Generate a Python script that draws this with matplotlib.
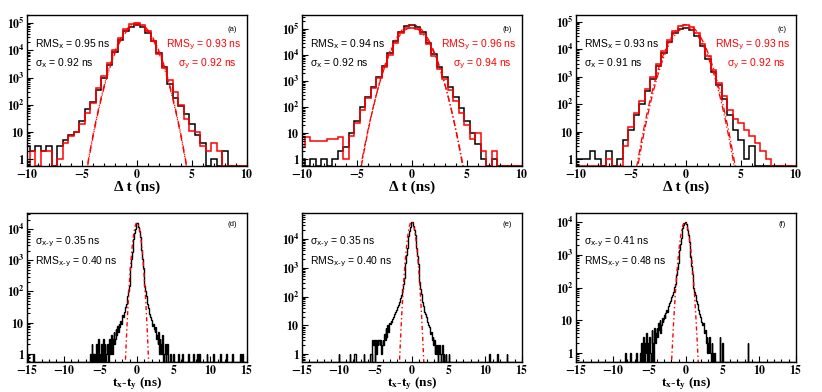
import numpy as np
import matplotlib
matplotlib.use('Agg')
import matplotlib.pyplot as plt
from matplotlib.ticker import FuncFormatter, LogLocator, MultipleLocator, NullFormatter

plt.rcParams['font.family'] = 'Liberation Serif'
plt.rcParams['mathtext.fontset'] = 'stix'

# ---------------- top row: delta t histograms (0.5 ns bins) ----------------
dt_edges = np.arange(-10.25, 10.26, 0.5)

a_x = [3, 2, 3, 2, 3, 0, 3, 5, 8, 10, 25, 70, 130, 350, 1000, 3000, 9000, 24000,
       50000, 75000, 85000, 75000, 45000, 22000, 8000, 2500, 600, 180, 90, 45, 20,
       8, 4, 0, 1, 0, 2, 0, 0, 0, 0]
a_y = [0, 2, 0, 2, 2, 0, 1, 4, 7, 10, 20, 50, 120, 400, 1200, 3500, 10000, 28000,
       60000, 90000, 100000, 85000, 50000, 22000, 7500, 2200, 800, 300, 100, 30, 11,
       10, 3, 2, 4, 2, 0, 0, 0, 0, 0]
b_x = [1, 0, 1, 0, 1, 0, 1, 2, 3, 10, 30, 100, 250, 600, 1500, 4000, 12000, 35000,
       80000, 130000, 150000, 125000, 75000, 30000, 11000, 3500, 1500, 600, 250, 90,
       30, 10, 4, 1, 0, 1, 0, 0, 0, 0, 0]
b_y = [3, 7, 5, 5, 5, 6, 6, 7, 1, 8, 25, 80, 220, 550, 1300, 3500, 10000, 30000,
       70000, 110000, 115000, 105000, 65000, 26000, 9000, 3000, 1200, 450, 180, 60,
       20, 6, 10, 2, 0, 2, 0, 0, 0, 0, 0]
c_x = [1, 1, 1, 2, 1, 0, 2, 0, 1, 5, 12, 40, 100, 300, 800, 2500, 7000, 18000,
       38000, 55000, 60000, 50000, 30000, 13000, 4500, 1500, 500, 150, 40, 12, 5,
       1, 3, 0, 0, 0, 0, 0, 0, 0, 0]
c_y = [0, 0, 0, 0, 0, 0, 1, 0, 0, 3, 15, 50, 130, 350, 1000, 3000, 8500, 22000,
       45000, 70000, 78000, 65000, 38000, 16000, 5500, 1800, 600, 200, 60, 30, 20,
       12, 7, 4, 2, 1, 0, 0, 0, 0, 0]

# gaussian fit parameters (amplitude, sigma) for x and y
top_fits = [((85000, 0.92), (100000, 0.92)),
            ((150000, 0.92), (115000, 0.94)),
            ((60000, 0.91), (78000, 0.92))]
top_rms = [(0.95, 0.93), (0.94, 0.96), (0.93, 0.93)]
top_sig = [(0.92, 0.92), (0.92, 0.94), (0.91, 0.92)]
top_ylim = [(0.57, 2.0e5), (0.55, 3.5e5), (0.57, 1.75e5)]
top_tags = ['(a)', '(b)', '(c)']

# ---------------- bottom row: tx - ty histograms (0.1 ns bins) ----------------
txy_edges = np.arange(-15.0, 15.001, 0.1)
core_start = -4.0   # left edge of the 80 core bins below

d_core = [2, 0, 3, 1, 2, 4, 1, 3, 5, 2,
          3, 6, 4, 8, 5, 9, 7, 11, 9, 14,
          17, 15, 22, 26, 32, 40, 52, 70, 100, 150,
          300, 600, 1100, 1900, 3200, 5000, 7400, 10000, 13000, 15500,
          16000, 14000, 11500, 8500, 5800, 3700, 2100, 1100, 550, 280,
          150, 100, 70, 52, 40, 30, 24, 19, 15, 12,
          11, 8, 9, 6, 5, 7, 3, 4, 2, 5,
          1, 3, 2, 1, 4, 2, 0, 1, 2, 0]
d_tail = {-14.95: 1, -14.85: 1, -14.15: 1, -14.05: 1,
          -6.35: 1, -6.15: 2, -5.95: 1, -5.75: 1, -5.55: 2, -5.45: 1, -5.25: 3,
          -5.05: 1, -4.85: 2, -4.65: 1, -4.55: 3, -4.35: 2, -4.15: 1, -4.05: 2,
          4.05: 1, 4.15: 2, 4.55: 1, 4.95: 1, 5.65: 1, 6.25: 1, 7.05: 1, 7.75: 1,
          8.25: 1, 8.55: 1, 9.55: 1, 10.45: 1, 11.35: 1, 11.45: 1, 12.25: 1,
          13.05: 1, 14.15: 1, 14.35: 1}

e_core = [3, 2, 5, 3, 8, 4, 10, 6, 9, 12,
          11, 14, 13, 17, 20, 19, 24, 28, 33, 38,
          45, 52, 62, 75, 90, 110, 140, 190, 280, 450,
          800, 1500, 2700, 4700, 8000, 13000, 19000, 26000, 34000, 39000,
          40000, 36000, 29000, 21000, 14000, 8500, 4800, 2500, 1300, 650,
          330, 190, 120, 85, 62, 48, 38, 30, 24, 19,
          15, 13, 10, 9, 7, 5, 6, 3, 4, 2,
          3, 1, 2, 1, 2, 0, 1, 2, 1, 0]
e_tail = {-9.95: 1, -8.45: 1, -7.85: 1, -7.75: 1, -6.55: 1, -5.65: 1,
          -5.55: 1, -5.35: 3, -5.25: 2, -5.15: 3, -4.95: 3, -4.85: 1, -4.75: 3,
          -4.65: 2, -4.55: 3, -4.45: 3, -4.35: 2, -4.25: 3, -4.15: 1, -4.05: 2,
          4.05: 1, 4.15: 2, 4.35: 1, 4.65: 1, 5.05: 1, 10.55: 1, 11.65: 1,
          12.95: 1}

f_core = [6, 3, 8, 5, 10, 4, 7, 12, 9, 11,
          14, 12, 17, 20, 18, 24, 28, 33, 38, 45,
          52, 60, 72, 88, 105, 130, 170, 240, 360, 560,
          900, 1400, 2200, 3300, 4800, 6400, 8000, 9300, 10000, 9800,
          8900, 7400, 5600, 3900, 2500, 1500, 850, 470, 260, 150,
          100, 75, 58, 46, 38, 31, 25, 20, 16, 13,
          11, 9, 7, 8, 5, 4, 5, 2, 3, 1,
          2, 1, 3, 1, 0, 2, 1, 0, 1, 0]
f_tail = {-8.25: 1, -7.55: 1, -6.75: 1, -6.25: 1, -6.05: 2, -5.85: 1,
          -5.75: 3, -5.55: 2, -5.45: 1, -5.35: 4, -5.15: 2, -4.95: 3, -4.85: 1,
          -4.65: 5, -4.55: 2, -4.35: 3, -4.25: 6, -4.15: 2, -4.05: 4,
          4.65: 3, 4.95: 2, 8.45: 2}

bot_fits = [(16000, 0.0, 0.35), (40000, -0.05, 0.35), (10000, -0.15, 0.41)]
bot_sig = [0.35, 0.35, 0.41]
bot_rms = [0.40, 0.40, 0.48]
bot_ylim = [(0.54, 3.3e4), (0.53, 8.0e4), (0.53, 1.9e4)]
bot_tags = ['(d)', '(e)', '(f)']


def fill_counts(core, tail):
    counts = np.zeros(len(txy_edges) - 1)
    i0 = int(round((core_start - txy_edges[0]) / 0.1))
    counts[i0:i0 + len(core)] = core
    for pos, n in tail.items():
        counts[int(round((pos - txy_edges[0]) / 0.1 - 0.5))] = n
    return counts


def log_label(v, pos):
    if v < 0.9:
        return ''
    n = int(round(np.log10(v)))
    if n == 0:
        return r'$\mathbf{1}$'
    if n == 1:
        return r'$\mathbf{10}$'
    return r'$\mathbf{10^{%d}}$' % n


def lin_label(v, pos):
    return r'$\mathbf{%d}$' % int(round(v))


def style_axis(ax, xmaj, xmin):
    ax.set_yscale('log')
    ax.yaxis.set_major_locator(LogLocator(base=10))
    ax.yaxis.set_minor_locator(LogLocator(base=10, subs=np.arange(2, 10)))
    ax.yaxis.set_major_formatter(FuncFormatter(log_label))
    ax.yaxis.set_minor_formatter(NullFormatter())
    ax.xaxis.set_major_locator(MultipleLocator(xmaj))
    ax.xaxis.set_minor_locator(MultipleLocator(xmin))
    ax.xaxis.set_major_formatter(FuncFormatter(lin_label))
    ax.tick_params(which='both', direction='in', top=False, right=False,
                   labelsize=8.5, width=0.8, pad=1.5)
    ax.tick_params(which='major', length=4)
    ax.tick_params(which='minor', length=2.2)
    for s in ax.spines.values():
        s.set_linewidth(1.0)


def note(ax, x, y, s, color='black', ha='left', size=7.5):
    ax.text(x, y, s, transform=ax.transAxes, family='Liberation Sans',
            fontsize=size, va='center', ha=ha, color=color,
            math_fontfamily='dejavusans')


fig = plt.figure(figsize=(8.22, 3.92), dpi=100)
lefts = [27, 302, 576]
W, H = 822, 392

tops = [(a_x, a_y), (b_x, b_y), (c_x, c_y)]
for i in range(3):
    ax = fig.add_axes([lefts[i] / W, (H - 166) / H, 220 / W, 151 / H])
    ymin, ymax = top_ylim[i]
    hx, hy = tops[i]
    ax.stairs(np.clip(hx, ymin, None), dt_edges, color='black', lw=1.1, baseline=None)
    ax.stairs(np.clip(hy, ymin, None), dt_edges, color='red', lw=1.1, baseline=None)
    xs = np.linspace(-6, 6, 600)
    for amp, sig in top_fits[i]:
        ax.plot(xs, amp * np.exp(-xs ** 2 / (2 * sig ** 2)), color='red', lw=0.9,
                ls=(0, (5, 2, 1, 2)))
    ax.set_xlim(-10, 10)
    ax.set_ylim(ymin, ymax)
    style_axis(ax, 5, 1)
    ax.set_xlabel('Δ t (ns)', fontsize=11, fontweight='bold')
    ax.xaxis.set_label_coords(0.5, -0.095)
    rx, ry = top_rms[i]
    sx, sy = top_sig[i]
    note(ax, 0.038, 0.805, 'RMS$_\\mathrm{x}$ = %.2f ns' % rx)
    note(ax, 0.038, 0.68, 'σ$_\\mathrm{x}$ = %.2f ns' % sx)
    note(ax, 0.972, 0.805, 'RMS$_\\mathrm{y}$ = %.2f ns' % ry, color='red', ha='right')
    note(ax, 0.955, 0.68, 'σ$_\\mathrm{y}$ = %.2f ns' % sy, color='red', ha='right')
    note(ax, 0.955, 0.905, top_tags[i], ha='right', size=5.5)

bots = [(d_core, d_tail), (e_core, e_tail), (f_core, f_tail)]
for i in range(3):
    ax = fig.add_axes([lefts[i] / W, (H - 362) / H, 220 / W, 149 / H])
    ymin, ymax = bot_ylim[i]
    counts = fill_counts(*bots[i])
    ax.stairs(np.clip(counts, ymin, None), txy_edges, color='black', lw=1.0, baseline=None)
    amp, mu, sig = bot_fits[i]
    xs = np.linspace(-3, 3, 600)
    ax.plot(xs, amp * np.exp(-(xs - mu) ** 2 / (2 * sig ** 2)), color='red', lw=1.0,
            ls=(0, (3, 2, 1, 2)))
    ax.set_xlim(-15, 15)
    ax.set_ylim(ymin, ymax)
    style_axis(ax, 5, 1)
    ax.set_xlabel('t$_\\mathbf{x}$-t$_\\mathbf{y}$ (ns)', fontsize=9.5, fontweight='bold')
    ax.xaxis.set_label_coords(0.5, -0.092)
    note(ax, 0.036, 0.807, 'σ$_\\mathrm{x\\text{-}y}$ = %.2f ns' % bot_sig[i])
    note(ax, 0.036, 0.673, 'RMS$_\\mathrm{x\\text{-}y}$ = %.2f ns' % bot_rms[i])
    note(ax, 0.955, 0.92, bot_tags[i], ha='right', size=5.5)

fig.savefig('out.png', dpi=100)
